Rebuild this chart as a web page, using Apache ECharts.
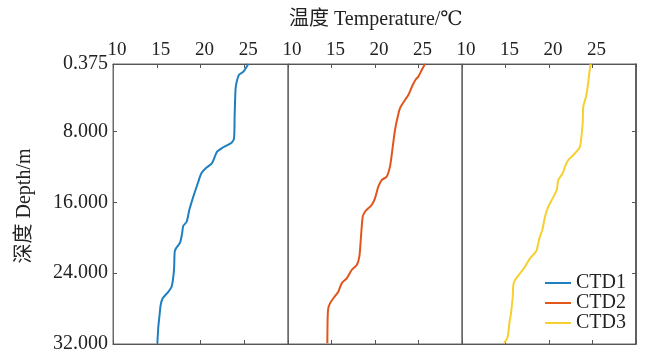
<!DOCTYPE html>
<html>
<head>
<meta charset="utf-8">
<script src="https://cdn.jsdelivr.net/npm/echarts@6/dist/echarts.min.js"></script>
<style>
html,body{margin:0;padding:0;background:#fff;}
#c{width:645px;height:354px;}
</style>
</head>
<body>
<div id="c"></div>
<script>
// Depth ticks (m)
var depthTicks = [0.375, 8, 16, 24, 32];
// Temperature ticks (°C)
var tempTicks = [10, 15, 20, 25];
var seriesNames = ['CTD1', 'CTD2', 'CTD3'];

// CTD1: [temperature °C, depth m]
var ctd1 = [
  [25.46,0.375],[24.9,1.24],[24.4,1.6],[24.1,2.55],[24.0,3.3],[23.9,6.3],[23.83,8.77],
  [23.55,9.26],[22.6,9.78],[21.9,10.28],[21.3,11.59],[20.6,12.15],[20.1,12.72],
  [19.75,13.67],[19.18,15.36],[18.72,16.87],[18.42,18.19],[18.03,18.67],[17.9,19.5],
  [17.66,20.56],[17.2,21.2],[17.05,21.58],[16.97,23.65],[16.7,25.54],[16.32,26.1],
  [15.68,26.84],[15.45,27.6],[15.3,28.92],[15.18,30.05],[15.07,31.92]
];
// CTD2
var ctd2 = [
  [25.75,0.375],[25.37,1.05],[24.98,1.8],[24.7,2.1],[24.33,2.75],[23.83,3.88],[23.45,4.44],
  [22.87,5.38],[22.57,6.51],[22.3,7.83],[21.99,10.09],[21.72,11.97],[21.34,13.1],
  [20.77,13.48],[20.38,14.23],[20.0,15.55],[19.62,16.3],[19.23,16.67],[18.85,17.06],
  [18.59,17.62],[18.39,19.88],[18.2,22.14],[17.9,23.08],[17.32,23.64],[16.75,24.58],
  [16.17,25.15],[15.78,26.09],[15.29,26.73],[14.83,27.41],[14.63,27.97],[14.56,28.92],
  [14.52,31.92]
];
// CTD3
var ctd3 = [
  [24.79,0.375],[24.63,1.43],[24.45,2.94],[24.25,4.07],[23.94,5.2],[23.87,7.07],[23.64,9.33],
  [23.48,9.9],[22.99,10.46],[22.22,11.22],[21.84,11.97],[21.57,12.72],[21.07,13.48],
  [20.89,14.61],[20.42,15.55],[19.92,16.49],[19.54,17.62],[19.23,19.13],[18.89,20.06],
  [18.77,20.63],[18.5,21.58],[17.82,22.32],[17.24,23.27],[16.67,24.02],[16.09,24.77],
  [15.9,25.34],[15.83,26.66],[15.63,28.53],[15.44,29.66],[15.25,31.17],[14.83,31.92]
];
var allData = [ctd1, ctd2, ctd3];
var colors = ['#1f7fc0', '#e0561c', '#f5d02e'];

var FONT = "'Liberation Serif','DejaVu Serif','Noto Sans CJK SC',serif";
var lefts = [113, 288, 462];
var widths = [175, 174, 174];
var TOP = 64, H = 280;

var grids = [], xAxes = [], yAxes = [], series = [];
for (var i = 0; i < 3; i++) {
  grids.push({left: lefts[i], top: TOP, width: widths[i], height: H, show: true,
    borderColor: '#6b6b6b', borderWidth: 1, backgroundColor: 'transparent'});
  xAxes.push({
    type: 'value', gridIndex: i, position: 'top', min: 10, max: 30, interval: 5,
    axisLine: {show: true, lineStyle: {color: '#555', width: 1.2}},
    axisTick: {show: true, inside: true, length: 4, lineStyle: {color: '#555'}},
    axisLabel: {show: true, customValues: tempTicks, margin: 4, padding: [0, 0, 0, 8],
      fontSize: 19, color: '#222', fontFamily: FONT},
    splitLine: {show: false}
  });
  xAxes.push({
    type: 'value', gridIndex: i, position: 'bottom', min: 10, max: 30, interval: 5,
    axisLine: {show: true, lineStyle: {color: '#555', width: 1.2}},
    axisTick: {show: true, inside: true, length: 4, lineStyle: {color: '#555'}},
    axisLabel: {show: false}, splitLine: {show: false}
  });
  yAxes.push({
    type: 'value', gridIndex: i, inverse: true, min: 0.375, max: 32, position: 'left',
    axisLine: {show: true, lineStyle: {color: '#6b6b6b'}},
    axisTick: {show: i === 0, inside: true, length: 4, customValues: depthTicks, lineStyle: {color: '#555'}},
    axisLabel: {show: i === 0, customValues: depthTicks, margin: 5, fontSize: 20, color: '#222', fontFamily: FONT,
      formatter: function (v) { return Number(v).toFixed(3); }},
    splitLine: {show: false}
  });
  series.push({
    name: seriesNames[i], type: 'line', xAxisIndex: 2 * i, yAxisIndex: i,
    data: allData[i], showSymbol: false, symbol: 'none', smooth: 0.25,
    lineStyle: {color: colors[i], width: 2}, itemStyle: {color: colors[i]}
  });
}
yAxes.push({
  type: 'value', gridIndex: 2, inverse: true, min: 0.375, max: 32, position: 'right',
  axisLine: {show: true, lineStyle: {color: '#444', width: 1.5}},
  axisTick: {show: true, inside: true, length: 4, customValues: depthTicks, lineStyle: {color: '#555'}},
  axisLabel: {show: false}, splitLine: {show: false}
});

var chart = echarts.init(document.getElementById('c'), null, {renderer: 'canvas'});
chart.setOption({
  backgroundColor: '#ffffff',
  animation: false,
  color: colors,
  grid: grids,
  xAxis: xAxes,
  yAxis: yAxes,
  series: series,
  legend: {
    orient: 'vertical', left: 545, top: 273, itemWidth: 26, itemHeight: 14, itemGap: 0,
    padding: 0, icon: 'path://M0,6 L26,6 L26,8 L0,8 Z',
    textStyle: {fontSize: 20, color: '#222', fontFamily: FONT, lineHeight: 20}
  },
  title: {
    text: '温度 Temperature/℃', left: 284, top: 5,
    textStyle: {fontSize: 20, fontWeight: 'normal', color: '#222', fontFamily: FONT}
  },
  graphic: [{
    type: 'text', x: 25, y: 206, rotation: Math.PI / 2,
    style: {text: '深度 Depth/m', fontSize: 20, fill: '#222', fontFamily: FONT,
      align: 'center', verticalAlign: 'middle'}
  }]
});
</script>
</body>
</html>
